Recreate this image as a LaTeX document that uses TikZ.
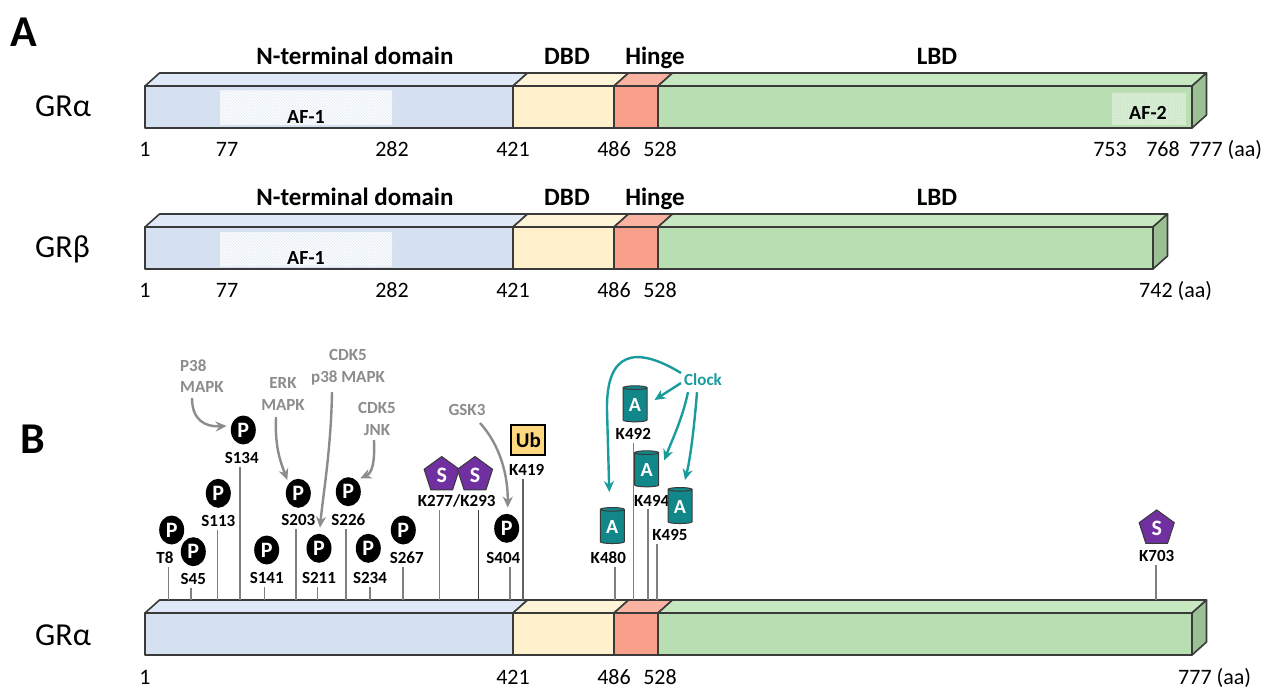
\documentclass[tikz,border=0pt]{standalone}
\usepackage{fontspec}
\setmainfont{Carlito}
\usetikzlibrary{arrows.meta,patterns,shapes.geometric,calc}
\definecolor{ntf}{HTML}{D5E1F1}
\definecolor{ntt}{HTML}{DEE8F6}
\definecolor{dbdf}{HTML}{FEF1CC}
\definecolor{dbdt}{HTML}{FEF4D8}
\definecolor{hgf}{HTML}{F9A08B}
\definecolor{hgt}{HTML}{FAB3A1}
\definecolor{lbdf}{HTML}{B9DEB2}
\definecolor{lbdt}{HTML}{C7E7C1}
\definecolor{lbds}{HTML}{9BC094}
\definecolor{edge}{HTML}{3A3A3A}
\definecolor{kin}{HTML}{8C8C8C}
\definecolor{stemc}{HTML}{7F7F7F}
\definecolor{tealc}{HTML}{1A9C9C}
\definecolor{acet}{HTML}{12878A}
\definecolor{sumoc}{HTML}{7030A0}
\definecolor{ubf}{HTML}{FFD77E}
\newcommand\gbar[2]{% #1 front top y, #2 right x
  \filldraw[edgeline,fill=ntf] (145,#1) rectangle (513,#1+42);
  \filldraw[edgeline,fill=dbdf] (513,#1) rectangle (614,#1+42);
  \filldraw[edgeline,fill=hgf] (614,#1) rectangle (658,#1+42);
  \filldraw[edgeline,fill=lbdf] (658,#1) rectangle (#2,#1+42);
  \filldraw[edgeline,fill=ntt] (145,#1) -- (159.5,#1-13) -- (527.5,#1-13) -- (513,#1) -- cycle;
  \filldraw[edgeline,fill=dbdt] (513,#1) -- (527.5,#1-13) -- (628.5,#1-13) -- (614,#1) -- cycle;
  \filldraw[edgeline,fill=hgt] (614,#1) -- (628.5,#1-13) -- (672.5,#1-13) -- (658,#1) -- cycle;
  \filldraw[edgeline,fill=lbdt] (658,#1) -- (672.5,#1-13) -- (#2+14.5,#1-13) -- (#2,#1) -- cycle;
  \filldraw[edgeline,fill=lbds] (#2,#1) -- (#2+14.5,#1-13) -- (#2+14.5,#1+29) -- (#2,#1+42) -- cycle;
}
\newcommand\pmark[6]{%
  \node[pc] (p#1) at (#2,#3) {P};
  \node[lb] (l#1) at (#4,#5) {#1};
  \coordinate (b#1) at (#6,600);
  \draw[stemline] (l#1.south -| b#1) ++(0,3) -- (b#1);
}
\newcommand\amark[6]{%
  \node[lb] (l#1) at (#4,#5) {#1};
  \coordinate (b#1) at (#6,600);
  \draw[stemline] (l#1.south -| b#1) ++(0,3) -- (b#1);
  \node[acyl] (a#1) at (#2,#3) {A};
}
\begin{document}
\begin{tikzpicture}[x=1pt,y=-1pt,
  every node/.style={inner sep=0pt},
  head/.style={font=\bfseries\fontsize{25}{25}\selectfont, anchor=base},
  num/.style={font=\fontsize{22}{22}\selectfont, anchor=base},
  numw/.style={font=\fontsize{22}{22}\selectfont, anchor=base west},
  gr/.style={font=\fontsize{32}{32}\selectfont, anchor=base west},
  panel/.style={font=\bfseries\fontsize{44}{44}\selectfont, anchor=base west},
  edgeline/.style={draw=edge, line width=1.6pt, line join=round},
  af/.style={font=\bfseries\fontsize{20}{20}\selectfont},
  pc/.style={ellipse, fill=black, minimum width=25pt, minimum height=29pt, text=white, font=\bfseries\fontsize{22}{22}\selectfont},
  lb/.style={font=\bfseries\fontsize{17}{17}\selectfont},
  kin/.style={font=\bfseries\fontsize{17}{21.5}\selectfont, text=kin, align=center},
  stemline/.style={draw=stemc, line width=1.6pt},
  karrow/.style={draw=kin, line width=2.4pt, -{Stealth[length=11pt,width=10pt]}},
  carrow/.style={draw=tealc, line width=2.4pt, -{Stealth[length=11pt,width=10pt]}},
  sumo/.style={regular polygon, regular polygon sides=5, minimum size=37pt, fill=sumoc, draw=edge, line width=1pt, text=white, font=\bfseries\fontsize{22}{22}\selectfont},
  acyl/.style={cylinder, shape border rotate=90, aspect=0.3, minimum height=36pt, minimum width=24pt, draw=edge, line width=1pt, fill=acet, text=white, font=\bfseries\fontsize{20}{20}\selectfont},
  ub/.style={rectangle, fill=ubf, draw=black, line width=2pt, minimum width=34pt, minimum height=30pt, font=\bfseries\fontsize{21}{21}\selectfont}
]
\useasboundingbox (0,0) rectangle (1273,687);
\fill[white] (0,0) rectangle (1273,687);

% ---------------- Panel A ----------------
\node[panel] (pA) at (10,47) {A};
% GR alpha
\node[head] (h1n) at (355,65) {N-terminal domain};
\node[head] (h1d) at (567,65) {DBD};
\node[head] (h1h) at (655,65) {Hinge};
\node[head] (h1l) at (937,65) {LBD};
\node[gr] (gra) at (35,117) {GRα};
\gbar{86}{1192}
\fill[white,opacity=0.45] (220,91) rectangle (392,125);
\fill[pattern=crosshatch, pattern color=white] (220,91) rectangle (392,125);
\fill[white,opacity=0.35] (1112,93) rectangle (1186,125);
\fill[pattern=dots, pattern color=white] (1112,93) rectangle (1186,125);
\node[af] (af1a) at (306,117) {AF-1};
\node[af] (af2a) at (1148,113) {AF-2};
\node[num] (n1a) at (145,157) {1};
\node[num] (n2a) at (227,157) {77};
\node[num] (n3a) at (392,157) {282};
\node[num] (n4a) at (513,157) {421};
\node[num] (n5a) at (614,157) {486};
\node[num] (n6a) at (660,157) {528};
\node[num] (n7a) at (1110,157) {753};
\node[num] (n8a) at (1163,157) {768};
\node[numw] (n9a) at (1189,157) {777 (aa)};

% GR beta
\node[head] (h2n) at (355,205) {N-terminal domain};
\node[head] (h2d) at (567,205) {DBD};
\node[head] (h2h) at (655,205) {Hinge};
\node[head] (h2l) at (937,205) {LBD};
\node[gr] (grb) at (35,257) {GRβ};
\gbar{227}{1153}
\fill[white,opacity=0.45] (220,232) rectangle (392,266);
\fill[pattern=crosshatch, pattern color=white] (220,232) rectangle (392,266);
\node[af] (af1b) at (306,258) {AF-1};
\node[num] (n1b) at (145,297) {1};
\node[num] (n2b) at (227,297) {77};
\node[num] (n3b) at (392,297) {282};
\node[num] (n4b) at (513,297) {421};
\node[num] (n5b) at (614,297) {486};
\node[num] (n6b) at (660,297) {528};
\node[numw] (n7b) at (1139,297) {742 (aa)};

% ---------------- Panel B ----------------
\node[panel] (pB) at (20,453) {B};
\node[gr] (grc) at (35,645) {GRα};
\gbar{613}{1192}
\node[num] (n1c) at (145,684) {1};
\node[num] (n4c) at (513,684) {421};
\node[num] (n5c) at (614,684) {486};
\node[num] (n6c) at (660,684) {528};
\node[numw] (n9c) at (1178,684) {777 (aa)};

% phosphorylation sites
\pmark{T8}{171.7}{530}{165}{557.7}{168.3}
\pmark{S45}{193.3}{551.7}{193.3}{579.3}{191}
\pmark{S113}{218.3}{493.3}{218.3}{520.7}{217.3}
\pmark{S134}{243.3}{430}{241.7}{458.3}{240}
\pmark{S141}{266.7}{550}{266.7}{578.3}{264.3}
\pmark{S203}{298.3}{493.3}{298.3}{520}{296}
\pmark{S211}{319}{548.3}{319}{578.3}{317.3}
\pmark{S226}{348.3}{491.7}{348.3}{520}{346}
\pmark{S234}{368.3}{548.3}{370}{578.3}{370}
\pmark{S267}{403.3}{530}{406.7}{557.7}{402.7}
\pmark{S404}{506.7}{528.3}{503.3}{557.7}{510}

% SUMO sites
\node[sumo] (s277) at (441.7,475) {S};
\node[sumo] (s293) at (475,475) {S};
\node[lb] (lK277) at (456.7,500.7) {K277/K293};
\coordinate (bK277) at (439.3,600);
\coordinate (bK293) at (478.3,600);
\draw[stemline] (lK277.south -| bK277) ++(0,3) -- (bK277);
\draw[stemline,draw=edge] (lK277.south -| bK293) ++(0,3) -- (bK293);
\node[sumo] (s703) at (1156.7,528.4) {S};
\node[lb] (lK703) at (1156.7,556) {K703};
\coordinate (bK703) at (1156,600);
\draw[stemline] (lK703.south -| bK703) ++(0,3) -- (bK703);

% ubiquitination
\node[ub] (ub) at (528.3,440) {Ub};
\node[lb] (lK419) at (526.7,470) {K419};
\coordinate (bK419) at (522.7,600);
\draw[stemline,draw=edge!80] (lK419.south -| bK419) ++(0,3) -- (bK419);

% acetylation
\amark{K492}{635}{405}{633.3}{434}{633.3}
\amark{K494}{646.7}{470}{651.7}{500.7}{647.7}
\amark{K495}{680}{506.7}{670}{535}{656.7}
\amark{K480}{612.3}{526.7}{608.3}{557.7}{615}

% kinases
\node[kin, align=left, anchor=west] (kp38) at (180,376) {P38\\MAPK};
\node[kin] (kerk) at (283,394) {ERK\\MAPK};
\node[kin] (kcdk1) at (348,367.5) {CDK5\\p38 MAPK};
\node[kin] (kcdk2) at (377,419) {CDK5\\JNK};
\node[kin] (kgsk) at (467,410) {GSK3};
\node[font=\bfseries\fontsize{17}{17}\selectfont, text=tealc] (clock) at (703,380) {Clock};

\coordinate (sp38) at (192,398);
\coordinate (serk) at (276,417);
\coordinate (scdk1) at (332,392);
\coordinate (scdk2) at (374,440);
\coordinate (sgsk) at (480,423);
\draw[karrow] (sp38) .. controls (192,420) and (205,427) .. ($(pS134.west)+(-4,-4)$);
\draw[karrow] (serk) .. controls (275,445) and (279,458) .. ($(pS203.north west)+(-2,-3)$);
\draw[karrow] (scdk1) .. controls (331,450) and (323,495) .. ($(pS211.north)+(1,-6)$);
\draw[karrow] (scdk2) .. controls (375,463) and (372,473) .. ($(pS226.north east)+(3,-3)$);
\draw[karrow] (sgsk) .. controls (500,445) and (508,475) .. ($(pS404.north)+(1,-6)$);

\draw[carrow] ($(clock.west)+(-3,3)$) -- ($(aK492.east)+(7,-5)$);
\draw[carrow] ($(clock.west)+(-3,-7)$) .. controls (635,345) and (606,352) .. (607,410) -- ($(aK480.north)+(-3,-15)$);
\draw[carrow] ($(clock.south)+(-15,6)$) .. controls (682,420) and (672,440) .. ($(aK494.north east)+(5,3)$);
\draw[carrow] ($(clock.south)+(-6,6)$) .. controls (694,430) and (690,460) .. ($(aK495.north)+(5,-7)$);
\end{tikzpicture}
\end{document}
